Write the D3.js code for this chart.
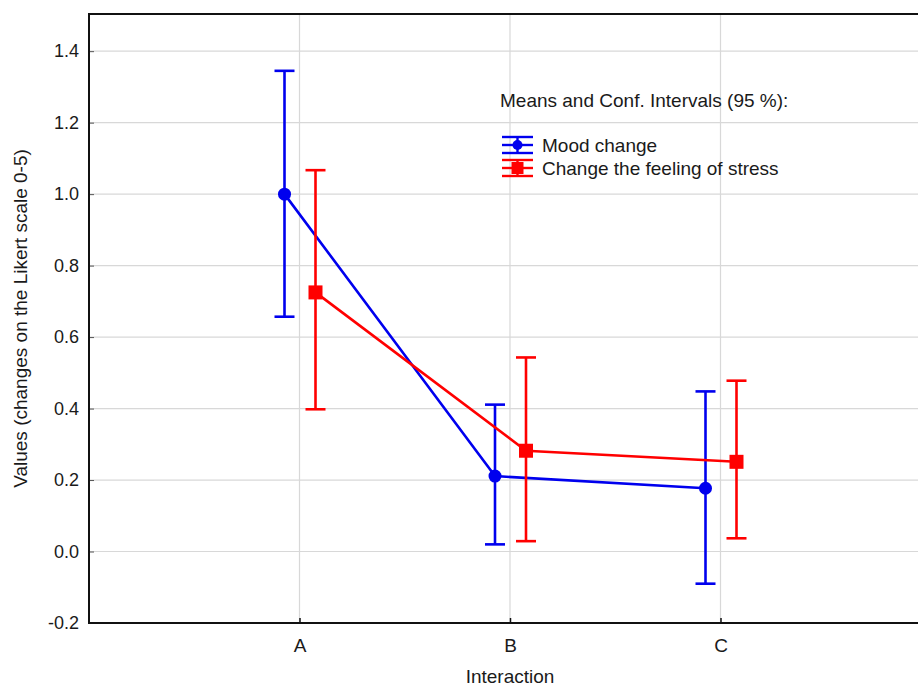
<!DOCTYPE html>
<html>
<head>
<meta charset="utf-8">
<script src="https://cdn.jsdelivr.net/npm/d3@7"></script>
<style>
  body { margin: 0; background: #fff; }
  text { font-family: "Liberation Sans", Arial, sans-serif; fill: #1a1a1a; }
</style>
</head>
<body>
<div id="chart"></div>
<script>
// data
const categories = ["A", "B", "C"]
const moodMean  = [1.000, 0.211, 0.177]
const moodLow   = [0.657, 0.020, -0.090]
const moodHigh  = [1.345, 0.411, 0.448]
const stressMean = [0.725, 0.282, 0.251]
const stressLow  = [0.398, 0.029, 0.037]
const stressHigh = [1.067, 0.543, 0.478]
const yTicks = [-0.2, 0.0, 0.2, 0.4, 0.6, 0.8, 1.0, 1.2, 1.4]

const series = [
  {name: "Mood change", color: "#0000ee", shape: "circle", offset: -15,
   mean: moodMean, low: moodLow, high: moodHigh},
  {name: "Change the feeling of stress", color: "#ff0000", shape: "square", offset: 16,
   mean: stressMean, low: stressLow, high: stressHigh}
]

const W = 918, H = 688
const margin = ({top: 14, right: -13, bottom: 65, left: 89})
const width = W - margin.left - margin.right,
      height = H - margin.top - margin.bottom

const svg = d3.select("#chart").append("svg")
    .attr("width", W)
    .attr("height", H)

const g = svg.append("g")
    .attr("transform", "translate(" + margin.left + "," + margin.top + ")")

const xScale = d3.scalePoint()
    .domain(categories)
    .range([0, width])
    .padding(1)

const yScale = d3.scaleLinear()
    .domain([-0.2, 1.504])
    .range([height, 0])

// grid
g.append("g").selectAll("line.hgrid")
  .data(yTicks.filter(d => d > -0.2))
  .join("line")
    .attr("x1", 0).attr("x2", W)
    .attr("y1", d => yScale(d)).attr("y2", d => yScale(d))
    .attr("stroke", "#d8d8d8").attr("stroke-width", 1.2)

g.append("g").selectAll("line.vgrid")
  .data(categories)
  .join("line")
    .attr("x1", d => xScale(d)).attr("x2", d => xScale(d))
    .attr("y1", 0).attr("y2", height)
    .attr("stroke", "#d8d8d8").attr("stroke-width", 1.2)

// axes
const yAxis = d3.axisLeft(yScale)
    .tickValues(yTicks)
    .tickFormat(d => d3.format(".1f")(d).replace("−", "-"))
    .tickSize(-5)
    .tickPadding(10)

const xAxis = d3.axisBottom(xScale)
    .tickSize(-5)
    .tickPadding(16)

g.append("g")
    .attr("class", "axis y-axis")
    .call(yAxis)
    .call(a => a.select(".domain").remove())
    .call(a => a.selectAll("line").attr("stroke", "#555").attr("stroke-width", 1))
    .selectAll("text").attr("font-size", 18).attr("fill", "#1a1a1a")

g.append("g")
    .attr("class", "axis x-axis")
    .attr("transform", `translate(0, ${height})`)
    .call(xAxis)
    .call(a => a.select(".domain").remove())
    .call(a => a.selectAll("line").attr("stroke", "#111").attr("stroke-width", 1.5))
    .selectAll("text").attr("font-size", 19).attr("fill", "#1a1a1a")

// frame
g.append("path")
    .attr("d", `M${W},0H0V${height}H${W}`)
    .attr("fill", "none")
    .attr("stroke", "#111")
    .attr("stroke-width", 2)

// series
series.forEach(s => {
  const pts = categories.map((c, i) => ({
    x: xScale(c) + s.offset, mean: s.mean[i], low: s.low[i], high: s.high[i]}))

  const line = d3.line()
    .x(d => d.x)
    .y(d => yScale(d.mean))

  g.append("path")
    .datum(pts)
    .attr("fill", "none")
    .attr("stroke", s.color)
    .attr("stroke-width", 2.6)
    .attr("d", line)

  const eb = g.append("g").selectAll("g")
    .data(pts)
    .join("g")
    .attr("stroke", s.color)
    .attr("stroke-width", 2.6)

  eb.append("line")
    .attr("x1", d => d.x).attr("x2", d => d.x)
    .attr("y1", d => yScale(d.low)).attr("y2", d => yScale(d.high))
  eb.append("line")
    .attr("x1", d => d.x - 10).attr("x2", d => d.x + 10)
    .attr("y1", d => yScale(d.high)).attr("y2", d => yScale(d.high))
  eb.append("line")
    .attr("x1", d => d.x - 10).attr("x2", d => d.x + 10)
    .attr("y1", d => yScale(d.low)).attr("y2", d => yScale(d.low))

  if (s.shape == "circle") {
    g.append("g").selectAll("circle")
      .data(pts)
      .join("circle")
      .attr("cx", d => d.x).attr("cy", d => yScale(d.mean))
      .attr("r", 6.5)
      .attr("fill", s.color)
  } else {
    g.append("g").selectAll("rect")
      .data(pts)
      .join("rect")
      .attr("x", d => d.x - 7).attr("y", d => yScale(d.mean) - 7)
      .attr("width", 14).attr("height", 14)
      .attr("fill", s.color)
  }
})

// legend
const legend = svg.append("g").attr("transform", "translate(499, 0)")
legend.append("text")
    .attr("x", 1).attr("y", 107)
    .attr("font-size", 19)
    .text("Means and Conf. Intervals (95 %):")

const items = legend.selectAll("g.item")
  .data(series)
  .join("g")
    .attr("transform", (d, i) => `translate(0, ${145 + i * 23})`)

items.each(function(s) {
  const it = d3.select(this)
  it.append("g")
    .attr("stroke", s.color).attr("stroke-width", 2.4)
    .call(sym => {
      sym.append("line").attr("x1", 3).attr("x2", 34).attr("y1", -8).attr("y2", -8)
      sym.append("line").attr("x1", 3).attr("x2", 34).attr("y1", 0).attr("y2", 0)
      sym.append("line").attr("x1", 3).attr("x2", 34).attr("y1", 8).attr("y2", 8)
      sym.append("line").attr("x1", 18.5).attr("x2", 18.5).attr("y1", -8).attr("y2", 8)
    })
  if (s.shape == "circle") {
    it.append("circle").attr("cx", 18.5).attr("cy", 0).attr("r", 5).attr("fill", s.color)
  } else {
    it.append("rect").attr("x", 12.5).attr("y", -6).attr("width", 12).attr("height", 12).attr("fill", s.color)
  }
  it.append("text")
    .attr("x", 43).attr("y", 6.5)
    .attr("font-size", 19)
    .text(s.name)
})

// axis titles
svg.append("text")
    .attr("text-anchor", "middle")
    .attr("transform", `translate(27, ${(margin.top + margin.top + height) / 2}) rotate(-90)`)
    .attr("font-size", 19)
    .text("Values (changes on the Likert scale 0-5)")

svg.append("text")
    .attr("text-anchor", "middle")
    .attr("x", margin.left + xScale("B"))
    .attr("y", 683)
    .attr("font-size", 19)
    .text("Interaction")
</script>
</body>
</html>
